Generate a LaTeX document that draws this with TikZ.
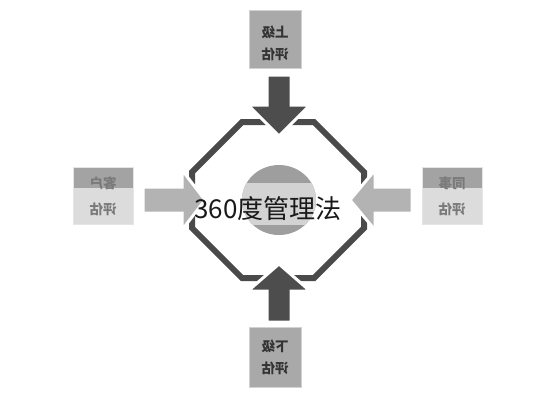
\documentclass[tikz,border=0pt]{standalone}
\usepackage{fontspec}
\usepackage{graphicx}
\usetikzlibrary{shapes.geometric}
\newfontfamily\cjk{Noto Sans CJK SC}
\definecolor{ringgray}{HTML}{4A4A4A}
\definecolor{darkarrow}{HTML}{4D4D4D}
\definecolor{lightarrow}{HTML}{B3B3B3}
\definecolor{boxgray}{HTML}{A9A9A9}
\definecolor{boxlight}{HTML}{DCDCDC}
\definecolor{bandgray}{HTML}{A3A3A3}
\definecolor{ovaldark}{HTML}{9E9E9E}
\definecolor{ovallight}{HTML}{D3D3D3}
\tikzset{
  evalbox/.style={rectangle, fill=boxgray, draw=gray!35, line width=1pt,
    minimum width=52pt, minimum height=58pt},
  sidebox/.style={rectangle, fill=boxlight, draw=gray!20, line width=1pt,
    minimum width=60pt, minimum height=57pt,
    path picture={\fill[bandgray] (path picture bounding box.north west)
      rectangle ([yshift=-20pt]path picture bounding box.north east);}},
  evaltext/.style={font=\cjk\bfseries\fontsize{13.5}{22}\selectfont, align=center, text=black!80},
  sidetext/.style={font=\cjk\bfseries\fontsize{13.5}{26}\selectfont, align=center, text=black!52},
  arrowpiece/.style={draw=white, line width=3pt, line join=miter},
}
\begin{document}
\begin{tikzpicture}[x=1pt, y=-1pt]
    \useasboundingbox (0,0) rectangle (533,400);
    % ring round the centre
    \draw[ringgray, line width=6pt, line join=miter]
      (242,122) -- (314,122) -- (364,172) -- (364,228) -- (314,278)
      -- (242,278) -- (192,228) -- (192,172) -- cycle;
    % four arrows
    \filldraw[arrowpiece, fill=darkarrow] (267,75) -- (291,75) -- (291,105) -- (310,105)
      -- (279,136) -- (248,105) -- (267,105) -- cycle;
    \filldraw[arrowpiece, fill=darkarrow] (267,322) -- (291,322) -- (291,291) -- (310,291)
      -- (279,264) -- (248,291) -- (267,291) -- cycle;
    \filldraw[arrowpiece, fill=lightarrow] (143,187) -- (182,187) -- (182,170) -- (205,200)
      -- (182,230) -- (182,213) -- (143,213) -- cycle;
    \filldraw[arrowpiece, fill=lightarrow] (412,187) -- (375,187) -- (375,170) -- (350,200)
      -- (375,230) -- (375,213) -- (412,213) -- cycle;
    % centre
    \node[ellipse, minimum width=74pt, minimum height=70pt, inner sep=0pt,
      path picture={
        \fill[ovaldark] (path picture bounding box.north west) rectangle (path picture bounding box.south east);
        \fill[ovallight] ([yshift=-18pt]path picture bounding box.north west)
          rectangle ([yshift=10pt]path picture bounding box.south east);
      }] (oval) at (279,200) {};
    \node[font=\cjk\fontsize{26}{30}\selectfont, text=black!90] (title) at (268,209) {360度管理法};
    % evaluation boxes
    \node[evalbox] (upper) at (275,39) {};
    \node[evaltext] (uppertext) at ([yshift=-4pt]upper.center) {\reflectbox{上级}\\\reflectbox{评估}};
    \node[evalbox, minimum height=60pt] (lower) at (275,357) {};
    \node[evaltext] (lowertext) at (lower.center) {\reflectbox{下级}\\\reflectbox{评估}};
    \node[sidebox] (client) at (103,196) {};
    \node[sidetext] (clienttext) at (client.center) {\reflectbox{客户}\\\reflectbox{评估}};
    \node[sidebox] (peer) at (452,196) {};
    \node[sidetext] (peertext) at (peer.center) {\reflectbox{同事}\\\reflectbox{评估}};
\end{tikzpicture}
\end{document}
